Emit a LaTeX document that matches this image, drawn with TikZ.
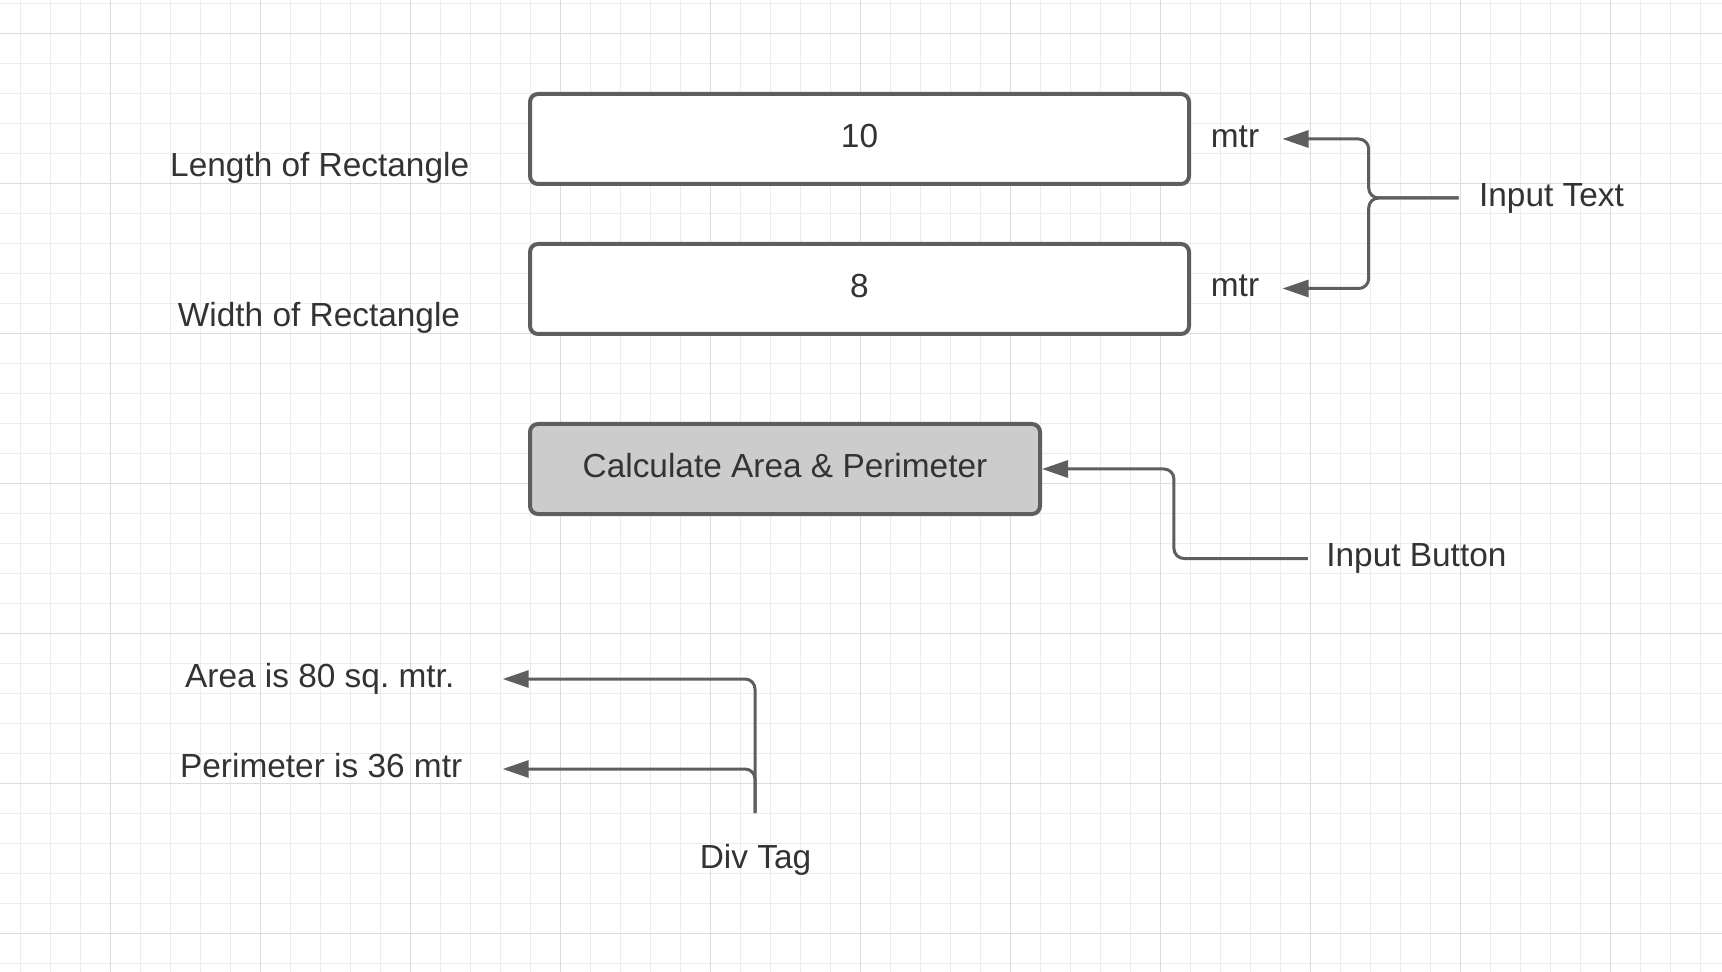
\documentclass[tikz,border=0pt]{standalone}
\usepackage{fontspec}
\setmainfont{Liberation Sans}
\usepackage{xcolor}
\usetikzlibrary{positioning, arrows.meta}

\definecolor{linha}{HTML}{5E5E5E}
\definecolor{texto}{HTML}{333333}
\definecolor{botao}{HTML}{CCCCCC}
\definecolor{gradefina}{HTML}{EDEDED}
\definecolor{gradegrossa}{HTML}{DCDCDC}

\tikzset{
	caixa/.style={draw=linha, line width=2pt, rounded corners=4pt, fill=white,
		minimum width=329.5pt, minimum height=45pt, text height=0.92em, text depth=0.08em},
	rotulo/.style={text height=0.92em, text depth=0.08em},
	seta/.style={draw=linha, line width=1.5pt, rounded corners=5pt,
		-{Triangle[length=13pt,width=8.5pt]}},
}

\begin{document}
\begin{tikzpicture}[x=0.5pt, y=-0.5pt, text=texto, font=\fontsize{16.7}{20}\selectfont]
				\useasboundingbox (0,0) rectangle (1722,972);
				
				%% Grade de fundo
				\fill [white] (0,0) rectangle (1722,972);
				\foreach \x in {20.7,50.7,...,1722}
					\draw [gradefina, line width=0.5pt] (\x,0)--(\x,972);
				\foreach \y in {3.3,33.3,...,972}
					\draw [gradefina, line width=0.5pt] (0,\y)--(1722,\y);
				\foreach \x in {110.7,260.7,...,1722}
					\draw [gradegrossa, line width=0.5pt] (\x,0)--(\x,972);
				\foreach \y in {33.3,183.3,...,972}
					\draw [gradegrossa, line width=0.5pt] (0,\y)--(1722,\y);
				
				%% Caixas de entrada
				\node [caixa] (comp) at (859.5,139) {10};
				\node [caixa] (larg) at (859.5,289) {8};
				\node [caixa, fill=botao, minimum width=255pt] (calc) at (785,469)
				{Calculate Area \& Perimeter};
				
				%% Rotulos
				\node [rotulo] (lcomp) at (319.7,168.4) {Length of Rectangle};
				\node [rotulo] (llarg) at (319,318) {Width of Rectangle};
				\node [rotulo, inner xsep=11.5pt] (mtr1) at (1235,139) {mtr};
				\node [rotulo, inner xsep=11.5pt] (mtr2) at (1235,288.5) {mtr};
				\node [rotulo, inner xsep=10pt] (intexto) at (1551.5,198) {Input Text};
				\node [rotulo, inner xsep=9pt] (inbotao) at (1416.4,558.5) {Input Button};
				\node [rotulo, inner xsep=24pt] (area) at (319.7,679) {Area is 80 sq.\ mtr.};
				\node [rotulo, inner xsep=20pt] (perim) at (321.2,769) {Perimeter is 36 mtr};
				\node [rotulo] (div) at (755.5,860.5) {Div Tag};
				\coordinate (divtopo) at (755,813);
				
				%% Setas
				\draw [seta] (intexto.west) -- ++(-90,0) |- (mtr1.east);
				\draw [seta] (intexto.west) -- ++(-90,0) |- (mtr2.east);
				\draw [seta] (inbotao.west) -- ++(-134,0) |- (calc.east);
				\draw [seta] (divtopo) |- (area.east);
				\draw [seta] (divtopo) |- (perim.east);
\end{tikzpicture}
\end{document}
